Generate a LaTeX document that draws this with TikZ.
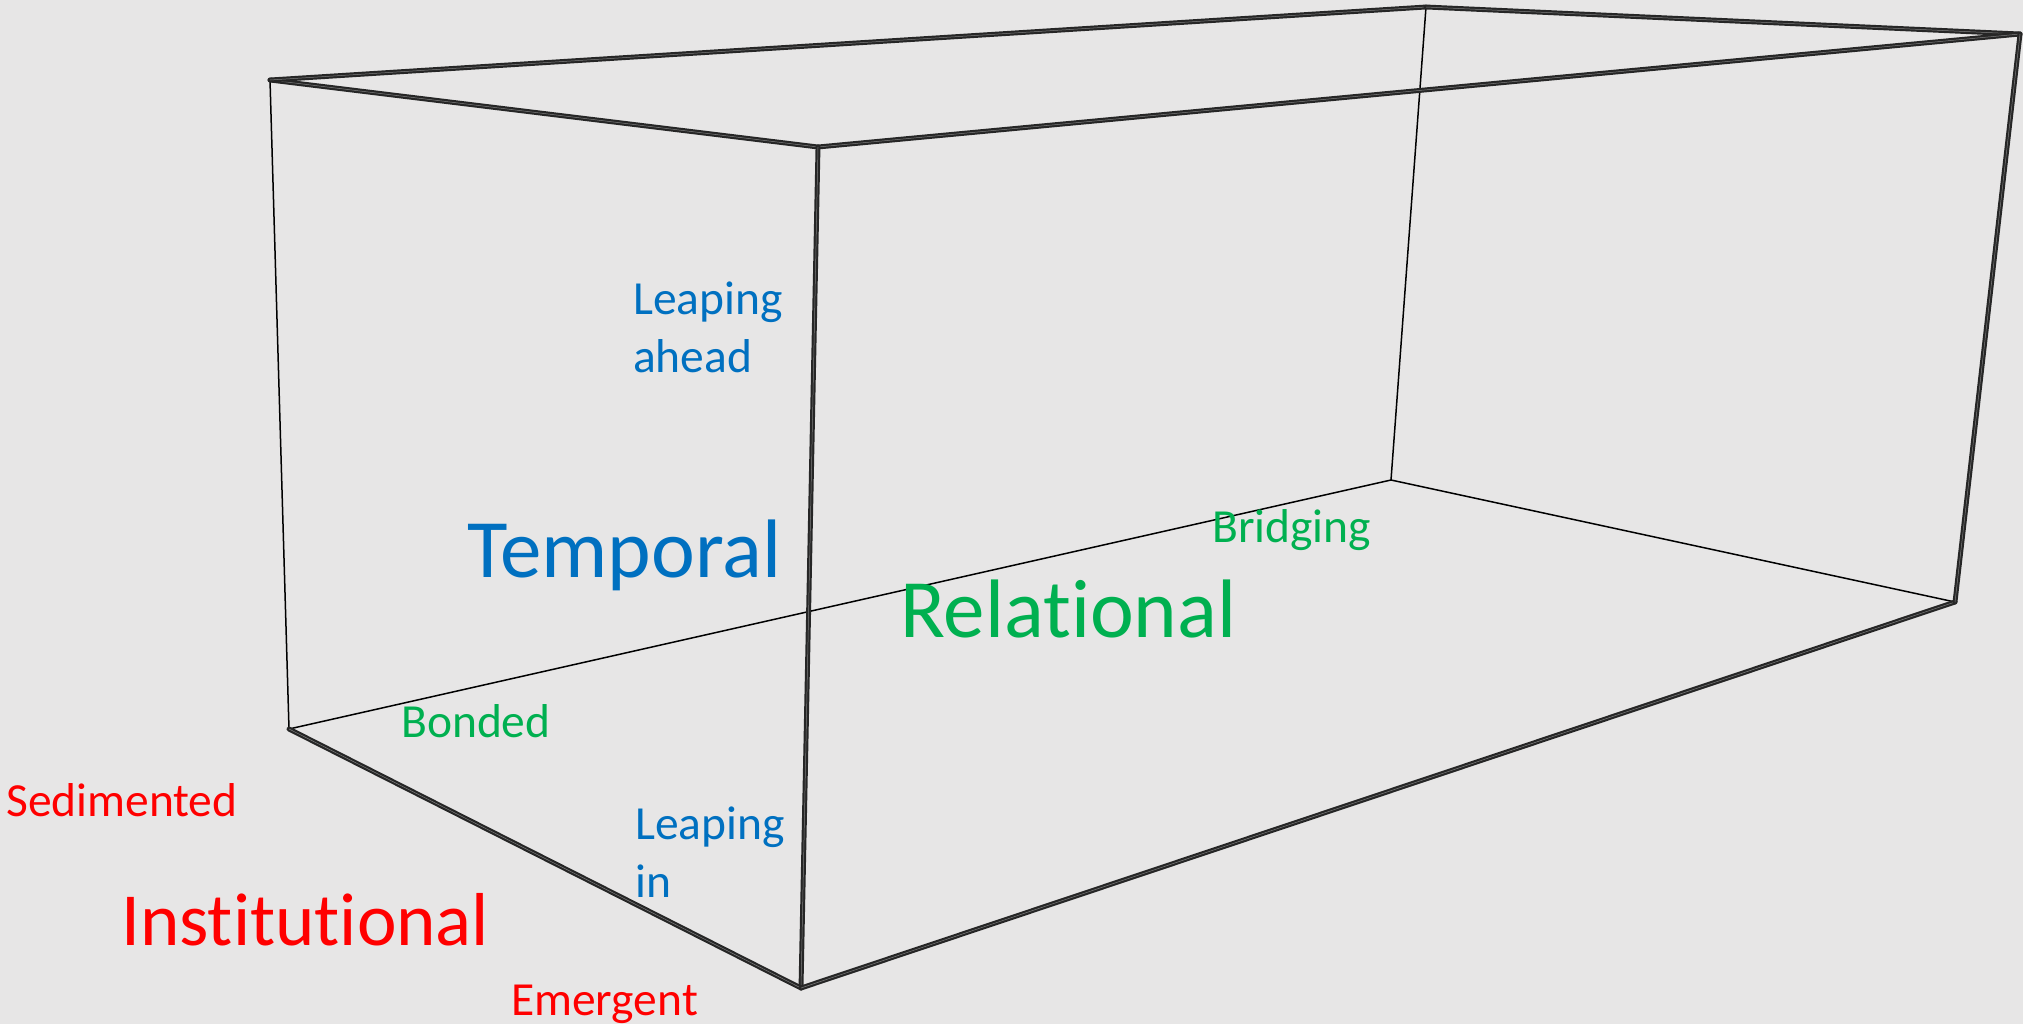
\documentclass[tikz,border=0pt]{standalone}
\usepackage{fontspec}
\setmainfont[Ligatures=NoCommon]{Carlito}
\definecolor{bgc}{HTML}{E7E6E6}
\definecolor{tblue}{HTML}{0070C0}
\definecolor{tgreen}{HTML}{00B050}
\definecolor{tred}{HTML}{FF0000}
\tikzset{
  edge/.style={draw=black, line width=1.5bp, line cap=round, line join=round},
  dedge/.style={draw=black!85, line width=2.2bp, double=bgc!55!black, double distance=0.5bp, line cap=round},
  small/.style={inner sep=0pt, anchor=base west, font=\fontsize{47.5bp}{58bp}\selectfont, align=left},
  big/.style={inner sep=0pt, anchor=base west, font=\fontsize{83bp}{96bp}\selectfont}
}
\begin{document}
\begin{tikzpicture}[x=1bp, y=-1bp]
\fill[bgc] (0,0) rectangle (2023,1024);
\useasboundingbox (0,0) rectangle (2023,1024);
% vertices
\coordinate (A) at (270,80);
\coordinate (B) at (818,147);
\coordinate (C) at (1426,7);
\coordinate (D) at (2020,34);
\coordinate (E) at (289,729);
\coordinate (F) at (801,988);
\coordinate (G) at (1391,480);
\coordinate (H) at (1955,602);
% back edges
\draw[edge] (A) -- (E);
\draw[edge] (C) -- (G);
\draw[edge] (E) -- (G);
\draw[edge] (G) -- (H);
% front edges
\draw[dedge] (A) -- (B);
\draw[dedge] (A) -- (C);
\draw[dedge] (C) -- (D);
\draw[dedge] (B) -- (D);
\draw[dedge] (B) -- (F);
\draw[dedge] (E) -- (F);
\draw[dedge] (F) -- (H);
\draw[dedge] (D) -- (H);
% labels
\node[small, text=tblue] (lahead) at (633,372) {Leaping\\ahead};
\node[big, text=tblue] (temporal) at (467,577) {Temporal};
\node[small, text=tgreen] (bridging) at (1212,542) {Bridging};
\node[big, text=tgreen] (relational) at (900,637) {Relational};
\node[small, text=tgreen] (bonded) at (401,737) {Bonded};
\node[small, text=tred] (sedimented) at (6,816) {Sedimented};
\node[big, text=tred, font=\fontsize{75bp}{90bp}\selectfont] (institutional) at (121,945) {Institutional};
\node[small, text=tblue] (lin) at (635,897) {Leaping\\in};
\node[small, text=tred] (emergent) at (511,1015) {Emergent};
\end{tikzpicture}
\end{document}
